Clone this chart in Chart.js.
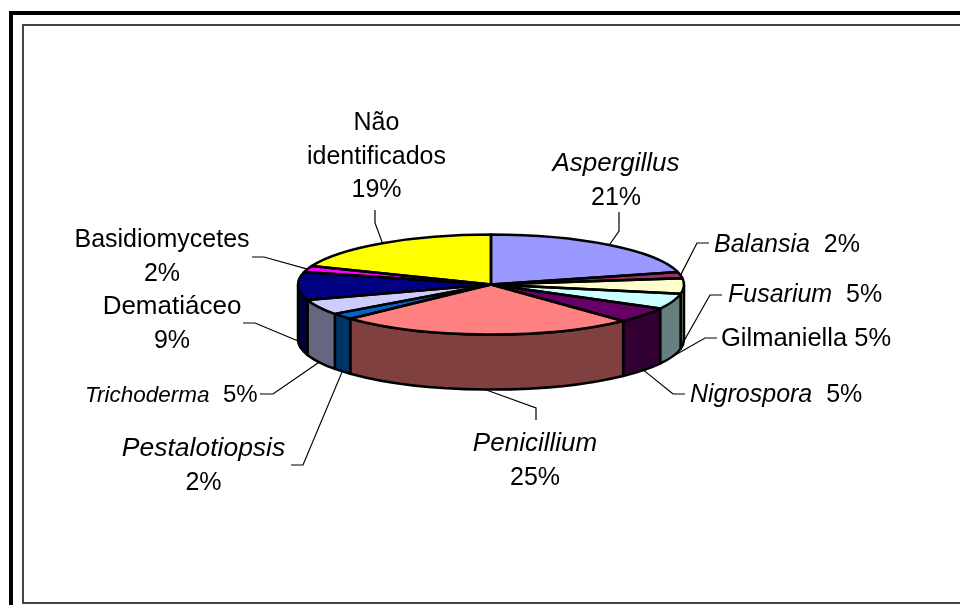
<!DOCTYPE html>
<html>
<head>
<meta charset="utf-8">
<title>Pie</title>
<script src="https://cdn.jsdelivr.net/npm/chart.js@4"></script>
<style>
html, body { margin: 0; padding: 0; background: #fff; }
canvas { display: block; }
</style>
</head>
<body>
<canvas id="pie_chart" width="960" height="605"></canvas>
<script>
// data, clockwise from 12 o'clock
const categories = ["Aspergillus", "Balansia", "Fusarium", "Gilmaniella", "Nigrospora", "Penicillium",
	"Pestalotiopsis", "Trichoderma", "Dematiáceo", "Basidiomycetes", "Não identificados"];
const percents = [21, 2, 5, 5, 5, 25, 2, 5, 9, 2, 19];
const top_colors = ["#9999FF", "#993366", "#FFFFCC", "#CCFFFF", "#660066", "#FF8080",
	"#0066CC", "#CCCCFF", "#000080", "#FF00FF", "#FFFF00"];
const wall_colors = ["#4D4D80", "#4D1A33", "#808066", "#668080", "#330033", "#804040",
	"#003366", "#666680", "#000040", "#800080", "#808000"];

// label placement, one entry per category. text pieces are [text, italic, size]
const FONT = '"Liberation Sans", Arial, sans-serif';
const label_layout = [
	{ lines: [[["Aspergillus", true, 26]], [["21%", false]]], x: 616, y: 171, align: "center", leader: [[619, 231], [619, 212]] },
	{ lines: [[["Balansia", true], ["  2%", false]]], x: 714, y: 252, align: "left", leader: [[697, 243], [709, 243]] },
	{ lines: [[["Fusarium", true], ["  5%", false]]], x: 728, y: 302, align: "left", leader: [[710, 295], [722, 295]] },
	{ lines: [[["Gilmaniella 5%", false, 25.5]]], x: 721, y: 346, align: "left", leader: [[705, 338], [717, 338]] },
	{ lines: [[["Nigrospora", true], ["  5%", false]]], x: 690, y: 402, align: "left", leader: [[673, 394], [685, 394]] },
	{ lines: [[["Penicillium", true, 26]], [["25%", false]]], x: 535, y: 451, align: "center", leader: [[536, 408], [536, 420]] },
	{ lines: [[["Pestalotiopsis", true, 26.5]], [["2%", false]]], x: 203.5, y: 456, align: "center", leader: [[303, 465], [291, 465]] },
	{ lines: [[["Trichoderma", true, 22.5], ["  5%", false, 24]]], x: 85, y: 402, align: "left", leader: [[273, 394], [260, 394]] },
	{ lines: [[["Dematiáceo", false, 26]], [["9%", false]]], x: 172, y: 314, align: "center", leader: [[255, 323], [243, 323]] },
	{ lines: [[["Basidiomycetes", false]], [["2%", false]]], x: 162, y: 247, align: "center", leader: [[264, 257], [252, 257]] },
	{ lines: [[["Não", false]], [["identificados", false]], [["19%", false]]], x: 376.5, y: 130, align: "center", leader: [[375, 223], [375, 210]] }
];

const PIE_RADIUS = 193;
const SQUASH = 50 / 193;
const WALL = 55;
const LINE_HEIGHT = 33.5;

function frame_box(ctx) {
	ctx.save();
	ctx.fillStyle = "#fff";
	ctx.fillRect(0, 0, 960, 605);
	ctx.lineWidth = 4;
	ctx.strokeStyle = "#000";
	ctx.strokeRect(11, 13, 1000, 800);
	ctx.lineWidth = 2;
	ctx.strokeStyle = "#444";
	ctx.strokeRect(23, 25, 1000, 578);
	ctx.restore();
}

function draw_walls(chart) {
	const ctx = chart.ctx;
	const arcs = chart.getDatasetMeta(0).data;
	ctx.save();
	ctx.lineWidth = 2.5;
	ctx.strokeStyle = "#000";
	ctx.lineJoin = "round";
	arcs.forEach((arc, i) => {
		const a0 = Math.max(arc.startAngle, 0);
		const a1 = Math.min(arc.endAngle, Math.PI);
		if (a1 <= a0) return;
		const r = arc.outerRadius;
		ctx.beginPath();
		ctx.ellipse(arc.x, arc.y, r, r * SQUASH, 0, a0, a1);
		ctx.ellipse(arc.x, arc.y + WALL, r, r * SQUASH, 0, a1, a0, true);
		ctx.closePath();
		ctx.fillStyle = wall_colors[i];
		ctx.fill();
		ctx.stroke();
	});
	ctx.restore();
}

function draw_outlines(chart) {
	const ctx = chart.ctx;
	ctx.save();
	ctx.lineWidth = 2.5;
	ctx.strokeStyle = "#000";
	ctx.lineJoin = "round";
	chart.getDatasetMeta(0).data.forEach(arc => {
		const r = arc.outerRadius;
		ctx.beginPath();
		ctx.moveTo(arc.x, arc.y);
		ctx.ellipse(arc.x, arc.y, r, r * SQUASH, 0, arc.startAngle, arc.endAngle);
		ctx.closePath();
		ctx.stroke();
	});
	ctx.restore();
}

function draw_labels(chart) {
	const ctx = chart.ctx;
	ctx.save();
	chart.getDatasetMeta(0).data.forEach((arc, i) => {
		const lay = label_layout[i];
		// leader starts on the rim at the middle of the slice
		const mid = (arc.startAngle + arc.endAngle) / 2;
		const r = arc.outerRadius;
		let ax = arc.x + r * Math.cos(mid);
		let ay = arc.y + r * SQUASH * Math.sin(mid);
		if (mid > 0 && mid < Math.PI) ay += WALL;
		ctx.beginPath();
		ctx.moveTo(ax, ay);
		lay.leader.forEach(p => ctx.lineTo(p[0], p[1]));
		ctx.lineWidth = 1.2;
		ctx.strokeStyle = "#000";
		ctx.stroke();

		ctx.fillStyle = "#000";
		ctx.textBaseline = "alphabetic";
		ctx.textAlign = "left";
		lay.lines.forEach((line, n) => {
			const fonts = line.map(t => (t[1] ? "italic " : "") + (t[2] || 25) + "px " + FONT);
			let width = 0;
			line.forEach((t, k) => { ctx.font = fonts[k]; width += ctx.measureText(t[0]).width; });
			let x = lay.align === "center" ? lay.x - width / 2 : lay.x;
			line.forEach((t, k) => {
				ctx.font = fonts[k];
				ctx.fillText(t[0], x, lay.y + n * LINE_HEIGHT);
				x += ctx.measureText(t[0]).width;
			});
		});
	});
	ctx.restore();
}

// fills come from the library's arcs, squashed to look like a tilted disc
const tilt_plugin = {
	id: "tilt",
	beforeDraw(chart) { frame_box(chart.ctx); },
	beforeDatasetsDraw(chart) {
		draw_walls(chart);
		const arc = chart.getDatasetMeta(0).data[0];
		chart.ctx.save();
		chart.ctx.translate(arc.x, arc.y);
		chart.ctx.scale(1, SQUASH);
		chart.ctx.translate(-arc.x, -arc.y);
	},
	afterDatasetsDraw(chart) {
		chart.ctx.restore();
		draw_outlines(chart);
		draw_labels(chart);
	}
};

new Chart(document.getElementById("pie_chart").getContext("2d"), {
	type: "pie",
	data: {
		labels: categories,
		datasets: [{
			data: percents,
			backgroundColor: top_colors,
			borderWidth: 0,
			clip: false,
			radius: PIE_RADIUS
		}]
	},
	options: {
		responsive: false,
		animation: false,
		layout: { padding: { left: 22, right: 0, top: 0, bottom: 36 } },
		plugins: { legend: { display: false }, tooltip: { enabled: false } }
	},
	plugins: [tilt_plugin]
});
</script>
</body>
</html>
